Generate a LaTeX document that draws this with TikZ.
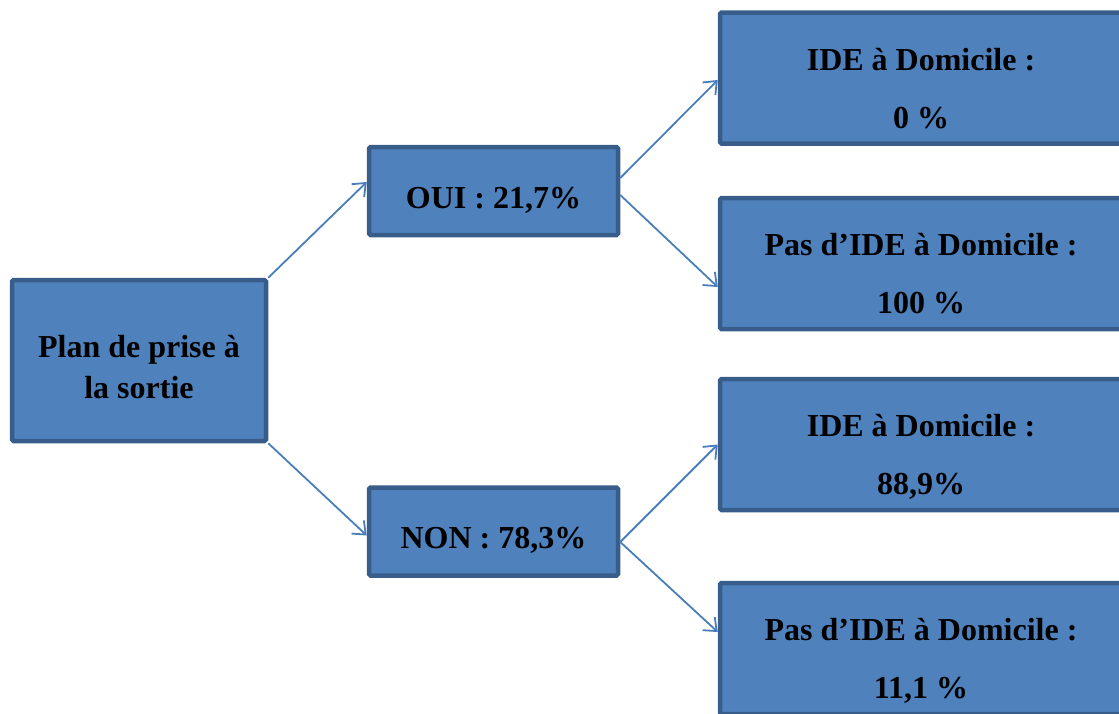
\documentclass[tikz,border=0pt]{standalone}
\usepackage{fontspec}
\setmainfont{Liberation Serif}
\usetikzlibrary{arrows.meta,calc}
\definecolor{boxfill}{HTML}{4F81BD}
\definecolor{boxline}{HTML}{385D8A}
\definecolor{linkcol}{HTML}{4A7EBB}
\tikzset{
  box/.style={draw=boxline, fill=boxfill, line width=4.5pt, rounded corners=1.5pt,
    inner sep=0pt},
  rootbox/.style={box, minimum width=254pt, minimum height=161pt},
  midbox/.style={box, minimum width=249pt, minimum height=88pt},
  leafbox/.style={box, minimum width=402pt, minimum height=131pt},
  txt/.style={anchor=base, inner sep=0pt, font=\fontsize{32}{38}\selectfont\bfseries},
  link/.style={draw=linkcol, line width=1.8pt,
    -{Straight Barb[length=11pt,width=18pt,line width=1.8pt]}}
}
\begin{document}
\begin{tikzpicture}[x=1pt,y=-1pt]
\useasboundingbox (0,0) rectangle (1119,713);
\clip (0,0) rectangle (1119,713);
% decision tree boxes
\node[rootbox] (root) at (139,360.5) {};
\node[midbox] (oui) at (493.5,191) {};
\node[midbox] (non) at (493.5,531.5) {};
\node[leafbox] (b1) at (921,78) {};
\node[leafbox] (b2) at (921,263.5) {};
\node[leafbox] (b3) at (921,444.5) {};
\node[leafbox] (b4) at (921,648.5) {};
% box texts, one node per line
\node[txt] (root1) at ($(root)+(0,-3)$) {Plan de prise à};
\node[txt] (root2) at ($(root)+(0,38)$) {la sortie};
\node[txt] (oui1) at ($(oui)+(0,17)$) {OUI : 21,7\%};
\node[txt] (non1) at ($(non)+(0,17)$) {NON : 78,3\%};
\node[txt] (b1a) at ($(b1)+(0,-8)$) {IDE à Domicile :};
\node[txt] (b1b) at ($(b1)+(0,50)$) {0 \%};
\node[txt] (b2a) at ($(b2)+(0,-8)$) {Pas d’IDE à Domicile :};
\node[txt] (b2b) at ($(b2)+(0,50)$) {100 \%};
\node[txt] (b3a) at ($(b3)+(0,-8)$) {IDE à Domicile :};
\node[txt] (b3b) at ($(b3)+(0,50)$) {88,9\%};
\node[txt] (b4a) at ($(b4)+(0,-8)$) {Pas d’IDE à Domicile :};
\node[txt] (b4b) at ($(b4)+(0,50)$) {11,1 \%};
% connectors
\draw[link] (root.north east) -- ($(oui.west)+(0,-9)$);
\draw[link] (root.south east) -- ($(non.west)+(0,4)$);
\draw[link] ($(oui.east)+(0,-13)$) -- ($(b1.west)+(0,2)$);
\draw[link] ($(oui.east)+(0,4)$) -- ($(b2.west)+(0,23.5)$);
\draw[link] ($(non.east)+(0,10.5)$) -- (b3.west);
\draw[link] ($(non.east)+(0,10.5)$) -- ($(b4.west)+(0,-16.5)$);
\end{tikzpicture}
\end{document}
